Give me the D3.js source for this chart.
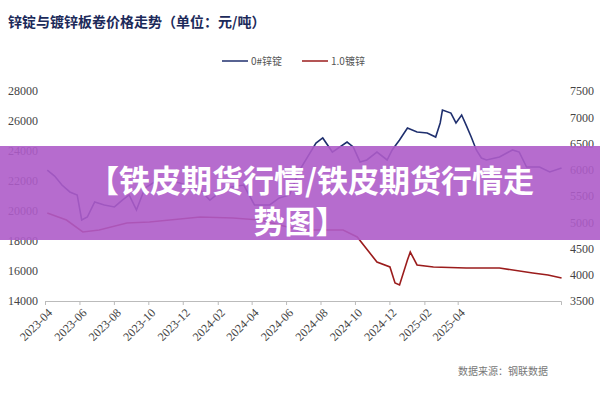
<!DOCTYPE html>
<html><head><meta charset="utf-8">
<script src="https://cdn.jsdelivr.net/npm/d3@7"></script>
<style>body{margin:0;background:#fff}</style></head>
<body><svg id="c" width="600" height="400"></svg>
<script>
const zincDates=["2023-04-05","2023-04-18","2023-05-01","2023-05-15","2023-05-28","2023-06-05","2023-06-15","2023-06-28","2023-07-15","2023-08-02","2023-08-16","2023-08-28","2023-09-10","2023-09-25","2023-10-12","2023-10-30","2023-11-26","2024-01-01","2024-01-18","2024-02-14","2024-03-18","2024-04-06","2024-05-03","2024-05-20","2024-06-07","2024-06-25","2024-07-24","2024-08-05","2024-08-22","2024-09-17","2024-09-28","2024-10-10","2024-10-22","2024-11-09","2024-11-27","2024-12-06","2024-12-19","2025-01-02","2025-01-19","2025-02-06","2025-02-21","2025-03-01","2025-03-05","2025-03-20","2025-03-29","2025-04-08","2025-04-16","2025-04-25","2025-05-04","2025-05-13","2025-05-22","2025-06-14","2025-07-07","2025-07-19","2025-08-01","2025-08-24","2025-09-11","2025-10-02"];
const zincValues=[22730,22330,21730,21270,21070,19400,19600,20600,20400,20270,20730,21070,20070,21530,21930,22070,21870,21400,20730,21530,21730,20400,20400,20870,21070,22730,24530,24870,23930,24600,24270,23270,23400,23930,23400,24070,24730,25530,25270,25200,24930,25870,26730,26530,25870,26400,25730,24930,24070,23530,23400,23600,24070,23930,22930,22930,22600,22870];
const galvDates=["2023-04-05","2023-05-09","2023-06-07","2023-07-06","2023-08-24","2023-10-03","2024-01-01","2024-02-28","2024-04-15","2024-06-25","2024-09-10","2024-10-05","2024-11-09","2024-12-02","2024-12-11","2024-12-19","2025-01-02","2025-01-07","2025-01-19","2025-02-17","2025-04-16","2025-06-14","2025-08-12","2025-09-08","2025-10-02"];
const galvValues=[5176,5043,4814,4852,4986,5005,5100,5081,5043,4852,4852,4719,4243,4148,3843,3805,4281,4433,4186,4148,4129,4129,4033,3995,3938];
const xTicks=["2023-04","2023-06","2023-08","2023-10","2023-12","2024-02","2024-04","2024-06","2024-08","2024-10","2024-12","2025-02","2025-04"];
const leftTicks=[14000,16000,18000,20000,22000,24000,26000,28000];
const rightTicks=[3500,4000,4500,5000,5500,6000,6500,7000,7500];

const svg=d3.select("#c");
const p=d3.timeParse("%Y-%m-%d"), pm=d3.timeParse("%Y-%m");
const x=d3.scaleTime().domain([pm("2023-04"),pm("2025-10")]).range([45,561]);
const yL=d3.scaleLinear().domain([14000,28000]).range([301,91]);
const yR=d3.scaleLinear().domain([3500,7500]).range([301,91]);
const serif="'Liberation Serif','DejaVu Serif',serif";
const cjk="'Noto Sans CJK SC',sans-serif";

svg.append("text").attr("x",8).attr("y",27).attr("font-size",14).attr("font-weight","bold").attr("fill","#1c2a5a").attr("font-family",cjk).text("锌锭与镀锌板卷价格走势（单位：元/吨）");
svg.append("line").attr("x1",222).attr("x2",248).attr("y1",61).attr("y2",61).attr("stroke","#1f2f6e").attr("stroke-width",1.5);
svg.append("text").attr("x",251).attr("y",65).attr("font-size",10).attr("fill","#555").attr("font-family",cjk).text("0#锌锭");
svg.append("line").attr("x1",302).attr("x2",328).attr("y1",61).attr("y2",61).attr("stroke","#9b1c1c").attr("stroke-width",1.5);
svg.append("text").attr("x",331).attr("y",65).attr("font-size",10).attr("fill","#555").attr("font-family",cjk).text("1.0镀锌");

const ax=svg.append("g").attr("transform","translate(0,301)").call(d3.axisBottom(x).tickValues(xTicks.map(pm)).tickSize(4).tickFormat(d3.timeFormat("%Y-%m")));
ax.select(".domain").attr("stroke","#bbb");
ax.selectAll(".tick line").attr("stroke","#bbb");
ax.selectAll("text").attr("font-family",serif).attr("font-size",12).attr("fill","#444").attr("text-anchor","end").attr("transform","rotate(-45)").attr("dx","-0.3em").attr("dy","0.6em");
const al=svg.append("g").attr("transform","translate(40,0)").call(d3.axisLeft(yL).tickValues(leftTicks).tickSize(0).tickFormat(d3.format("d")));
al.select(".domain").remove();
al.selectAll("text").attr("font-family",serif).attr("font-size",12).attr("fill","#444").attr("x",-2);
const ar=svg.append("g").attr("transform","translate(568,0)").call(d3.axisRight(yR).tickValues(rightTicks).tickSize(0).tickFormat(d3.format("d")));
ar.select(".domain").remove();
ar.selectAll("text").attr("font-family",serif).attr("font-size",12).attr("fill","#444").attr("x",2);

const lz=d3.line().x((d,i)=>x(p(zincDates[i]))).y(d=>yL(d));
svg.append("path").attr("d",lz(zincValues)).attr("fill","none").attr("stroke","#1f2f6e").attr("stroke-width",1.6);
const lg=d3.line().x((d,i)=>x(p(galvDates[i]))).y(d=>yR(d));
svg.append("path").attr("d",lg(galvValues)).attr("fill","none").attr("stroke","#9b1c1c").attr("stroke-width",1.6);

svg.append("text").attr("x",458).attr("y",375).attr("font-size",10).attr("fill","#777").attr("font-family",cjk).text("数据来源：钢联数据");

svg.append("rect").attr("x",0).attr("y",146).attr("width",600).attr("height",94).attr("fill","#ae5cc9").attr("opacity",0.9);
svg.append("text").attr("x",311).attr("y",192).attr("text-anchor","middle").attr("font-size",31).attr("font-weight","bold").attr("fill","#fff").attr("font-family",cjk).text("【铁皮期货行情/铁皮期货行情走");
svg.append("text").attr("x",300).attr("y",233).attr("text-anchor","middle").attr("font-size",31).attr("font-weight","bold").attr("fill","#fff").attr("font-family",cjk).text("势图】");
</script></body></html>
